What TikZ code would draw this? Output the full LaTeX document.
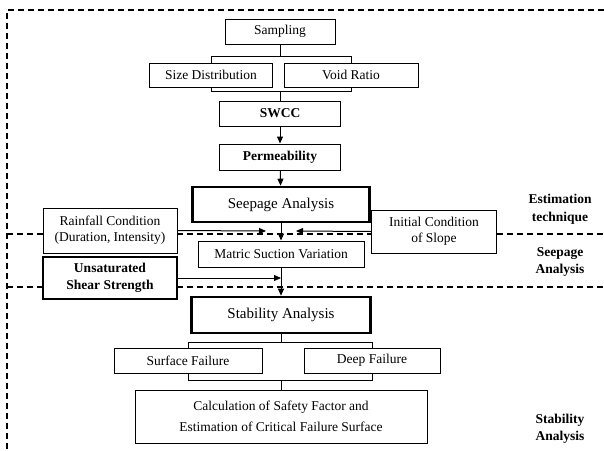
\documentclass[tikz,border=0pt]{standalone}
\usepackage{fontspec}
\setmainfont{Liberation Serif}
\usetikzlibrary{arrows.meta}
\begin{document}
\begin{tikzpicture}[x=1pt,y=-1pt,
    box/.style={draw, fill=white, line width=1pt, inner sep=0pt, align=center, font=\fontsize{13.5}{16}\selectfont},
    bigbox/.style={box, line width=2.6pt, font=\fontsize{15}{18}\selectfont},
    boldbox/.style={box, font=\fontsize{13.5}{16.5}\selectfont\bfseries},
    zone/.style={dash pattern=on 6pt off 4pt, line width=1.1pt},
    link/.style={line width=1pt},
    arr/.style={link, -{Triangle[length=7pt,width=6pt]}},
    tag/.style={align=center, font=\fontsize{13.5}{17.5}\selectfont\bfseries}]
\useasboundingbox (0,0) rectangle (604,450);
%   \draw[thin] (0,0) rectangle (604,450);
\draw[zone] (604,10) -- (7,10) -- (7,450);
\draw[zone] (7,234) -- (604,234);
\draw[zone] (7,287) -- (604,287);
\node[box, minimum width=110pt, minimum height=25pt] (sampling) at (280,31.5) {Sampling};
\node[box, minimum width=123pt, minimum height=24pt] (sizedist) at (211,75) {Size Distribution};
\node[box, minimum width=134pt, minimum height=24pt] (voidratio) at (351,75) {Void Ratio};
\node[boldbox, minimum width=121pt, minimum height=25pt] (swcc) at (280,113.5) {SWCC};
\node[boldbox, minimum width=121pt, minimum height=26pt] (perm) at (280,157) {Permeability};
\node[bigbox, minimum width=177pt, minimum height=35pt] (seepage) at (281,204.5) {Seepage Analysis};
\node[box, minimum width=134pt, minimum height=45pt] (rainfall) at (110,230.5) {Rainfall Condition\\(Duration, Intensity)};
\node[box, minimum width=125pt, minimum height=43pt] (initial) at (434,231.5) {Initial Condition\\of Slope};
\node[box, minimum width=166pt, minimum height=26pt] (matric) at (281,254) {Matric Suction Variation};
\node[boldbox, line width=1.7pt, minimum width=134pt, minimum height=42pt] (unsat) at (110,278) {Unsaturated\\Shear Strength};
\node[bigbox, minimum width=179pt, minimum height=36pt] (stability) at (281,315) {Stability Analysis};
\node[box, minimum width=148pt, minimum height=25pt] (surface) at (188,360.5) {Surface Failure};
\node[box, minimum width=136pt, minimum height=25pt] (deep) at (372,360.5) {Deep Failure};
\node[box, minimum width=292pt, minimum height=53pt, font=\fontsize{13.5}{21.5}\selectfont] (calc) at (281,416.5) {Calculation of Safety Factor and\\Estimation of Critical Failure Surface};
\node[tag] (tagest) at (560,209) {Estimation\\technique};
\node[tag] (tagseep) at (560,262) {Seepage\\Analysis};
\node[tag] (tagstab) at (560,429) {Stability\\Analysis};
\coordinate (rainend) at (266,231);
\coordinate (initend) at (296,231);
\draw[link] (sampling.south) -- ++(0,12) coordinate (topfork);
\draw[link] (sizedist.north) |- (topfork) -| (voidratio.north);
\draw[link] (sizedist.south) -- ++(0,4) -| (voidratio.south);
\draw[link] (swcc.north) -- ++(0,-10);
\draw[arr] (swcc) -- (perm);
\draw[arr] (perm) -- (seepage);
\draw[arr] (seepage) -- (matric);
\draw[arr] (rainfall.east) -- (rainend);
\draw[arr] (initial.west) -- (initend);
\draw[arr] (unsat.east) -- (unsat.east -| matric.south);
\draw[arr] (matric) -- (stability);
\draw[link] (stability.south) -- ++(0,8) coordinate (lowfork);
\draw[link] (surface.north) |- (lowfork) -| (deep.north);
\draw[link] (surface.south) -- ++(0,7) -| (deep.south);
\draw[link] (calc.north) -- ++(0,-10);
\end{tikzpicture}
\end{document}
